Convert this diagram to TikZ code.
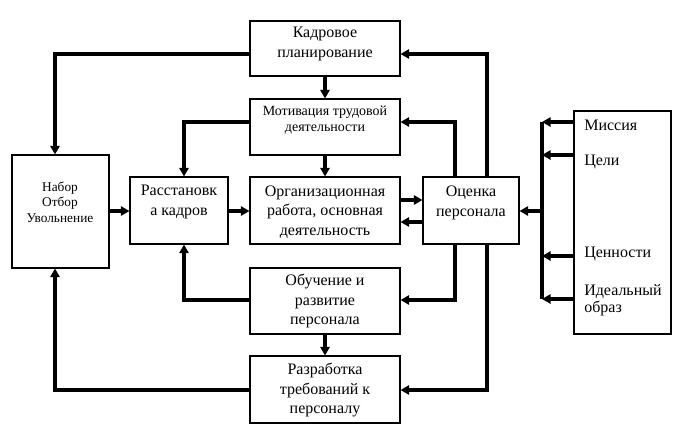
\documentclass[tikz,border=0pt]{standalone}
\usepackage{fontspec}
\setmainfont{Liberation Serif}
\newfontfamily\tnr{Liberation Serif}
\usetikzlibrary{fit,arrows.meta}
\tikzset{
  box/.style={draw, line width=0.8pt, inner sep=0pt},
  arr/.style={line width=2.6pt, -{Triangle[length=6.5pt,width=7pt]}},
  bus/.style={line width=2.6pt},
  txt/.style={align=center, inner sep=0pt, font=\tnr\fontsize{12}{14.5}\selectfont},
  txtsm/.style={align=center, inner sep=0pt, font=\tnr\fontsize{10.5}{12}\selectfont},
  txtxs/.style={align=center, inner sep=0pt, font=\tnr\fontsize{10}{11.6}\selectfont},
  txtl/.style={align=left, inner sep=0pt, anchor=west, font=\tnr\fontsize{12}{13}\selectfont},
}
\begin{document}
\begin{tikzpicture}[x=0.75pt,y=-0.75pt]
\useasboundingbox[fill=white] (0,0) rectangle (684,432);
% boxes
\node[box, fit={(250,21) (400,76)}] (kadr) {};
\node[box, fit={(250,99) (400,155)}] (motiv) {};
\node[box, fit={(250,177) (400,244)}] (org) {};
\node[box, fit={(250,268) (400,334)}] (obuch) {};
\node[box, fit={(250,356) (400,423)}] (razr) {};
\node[box, fit={(12,155) (109,268)}] (nabor) {};
\node[box, fit={(130,177) (228,244)}] (rasst) {};
\node[box, fit={(423,177) (519,244)}] (ocen) {};
\node[box, fit={(574,111) (671,334)}] (goals) {};
% texts
\node[txt] (kadrT) at (325,44) {Кадровое\\планирование};
\node[txtsm] (motivT) at (325,120) {Мотивация трудовой\\деятельности};
\node[txt] (orgT) at (325,212) {Организационная\\работа, основная\\деятельность};
\node[txt] (obuchT) at (325,301) {Обучение и\\развитие\\персонала};
\node[txt] (razrT) at (325,390) {Разработка\\требований к\\персоналу};
\node[txtxs] (naborT) at (60,202) {Набор\\Отбор\\Увольнение};
\node[txt] (rasstT) at (179,202) {Расстановк\\а кадров};
\node[txt] (ocenT) at (471,203) {Оценка\\персонала};
\node[txtl] (g1) at (584,125) {Миссия};
\node[txtl] (g2) at (584,162) {Цели};
\node[txtl] (g3) at (584,254) {Ценности};
\node[txtl] (g4) at (584,300) {Идеальный\\образ};
% bend coordinates
\coordinate (a1) at (55,54);
\coordinate (a2) at (184,122);
\coordinate (a3) at (184,300);
\coordinate (a4) at (55,390);
\coordinate (b1) at (487,54);
\coordinate (b2) at (455,122);
\coordinate (b3) at (455,300);
\coordinate (b4) at (487,390);
\coordinate (o1) at (0,200);
\coordinate (o2) at (0,222);
\coordinate (m1) at (0,211);
\coordinate (c1) at (542,122);
\coordinate (c2) at (542,155);
\coordinate (c0) at (542,211);
\coordinate (c3) at (542,256);
\coordinate (c4) at (542,299);
% vertical chain
\draw[arr] (kadr.south) -- (motiv.north);
\draw[arr] (motiv.south) -- (org.north);
\draw[arr] (obuch.south) -- (razr.north);
% left loops
\draw[arr] (kadr.west |- a1) -- (a1) -- (nabor.north -| a1);
\draw[arr] (motiv.west |- a2) -- (a2) -- (rasst.north -| a2);
\draw[arr] (obuch.west |- a3) -- (a3) -- (rasst.south -| a3);
\draw[arr] (razr.west |- a4) -- (a4) -- (nabor.south -| a4);
% horizontal
\draw[arr] (nabor.east |- m1) -- (rasst.west |- m1);
\draw[arr] (rasst.east |- m1) -- (org.west |- m1);
\draw[arr] (org.east |- o1) -- (ocen.west |- o1);
\draw[arr] (ocen.west |- o2) -- (org.east |- o2);
% right loops from assessment
\draw[arr] (ocen.north -| b1) -- (b1) -- (kadr.east |- b1);
\draw[arr] (ocen.north -| b2) -- (b2) -- (motiv.east |- b2);
\draw[arr] (ocen.south -| b3) -- (b3) -- (obuch.east |- b3);
\draw[arr] (ocen.south -| b4) -- (b4) -- (razr.east |- b4);
% bus
\draw[bus] (c1) -- (c4);
\draw[arr] (goals.west |- c1) -- (c1);
\draw[arr] (goals.west |- c2) -- (c2);
\draw[arr] (goals.west |- c3) -- (c3);
\draw[arr] (goals.west |- c4) -- (c4);
\draw[arr] (c0) -- (ocen.east |- c0);
\end{tikzpicture}
\end{document}
